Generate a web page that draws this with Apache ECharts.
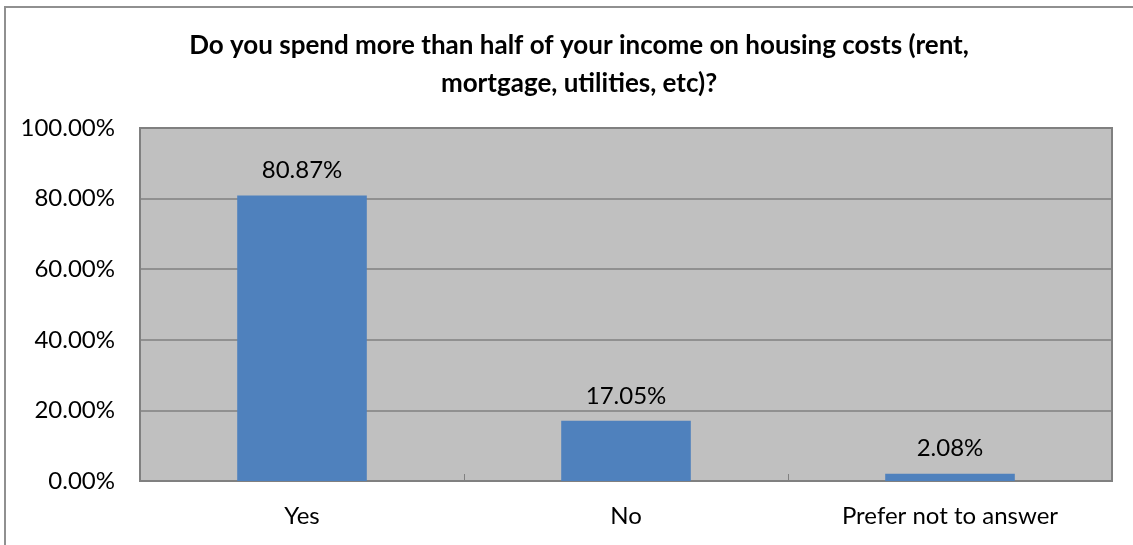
<!DOCTYPE html>
<html>
<head>
<meta charset="utf-8">
<script src="https://cdn.jsdelivr.net/npm/echarts@6/dist/echarts.min.js"></script>
<style>
  html, body { margin: 0; padding: 0; background: #fff; }
  #chart { width: 1133px; height: 545px; }
</style>
</head>
<body>
<div id="chart"></div>
<script>
// Survey answers and their shares (percent)
const categories = ['Yes', 'No', 'Prefer not to answer'];
const shares = [80.87, 17.05, 2.08];
const yTicks = [0, 20, 40, 60, 80, 100];

const FONT = 'Lato, "Open Sans", sans-serif';
const chart = echarts.init(document.getElementById('chart'), null, { renderer: 'canvas' });

chart.setOption({
  backgroundColor: '#ffffff',
  animation: false,
  title: {
    text: 'Do you spend more than half of your income on housing costs (rent,\nmortgage, utilities, etc)?',
    left: 574,
    top: 22,
    textAlign: 'center',
    textStyle: {
      fontFamily: FONT,
      fontSize: 26,
      fontWeight: 'bold',
      color: '#000',
      lineHeight: 38,
      align: 'center'
    }
  },
  graphic: [{
    type: 'rect',
    shape: { x: 5, y: 7, width: 1200, height: 600 },
    style: { fill: 'none', stroke: '#909090', lineWidth: 2 },
    silent: true,
    z: -1
  }],
  grid: {
    left: 140, right: 21, top: 128, bottom: 64,
    show: true,
    backgroundColor: '#C0C0C0',
    borderColor: '#808080',
    borderWidth: 2
  },
  xAxis: {
    type: 'category',
    data: categories,
    axisLine: { show: false },
    axisTick: {
      show: true, inside: true, length: 7,
      lineStyle: { color: '#808080', width: 1 }
    },
    axisLabel: {
      fontFamily: FONT, fontSize: 24, color: '#000', margin: 23
    },
    splitLine: { show: false }
  },
  yAxis: {
    type: 'value',
    min: yTicks[0],
    max: yTicks[yTicks.length - 1],
    interval: yTicks[1] - yTicks[0],
    axisLine: { show: false },
    axisTick: { show: false },
    axisLabel: {
      fontFamily: FONT, fontSize: 24, color: '#000', margin: 25,
      formatter: v => v.toFixed(2) + '%'
    },
    splitLine: { show: true, lineStyle: { color: '#808080', width: 1.5 } }
  },
  series: [{
    type: 'bar',
    data: shares,
    barWidth: '40%',
    itemStyle: { color: '#4F81BD' },
    label: {
      show: true,
      position: 'top',
      distance: 13,
      fontFamily: FONT,
      fontSize: 24,
      color: '#000',
      formatter: p => p.value.toFixed(2) + '%'
    }
  }]
});
</script>
</body>
</html>
